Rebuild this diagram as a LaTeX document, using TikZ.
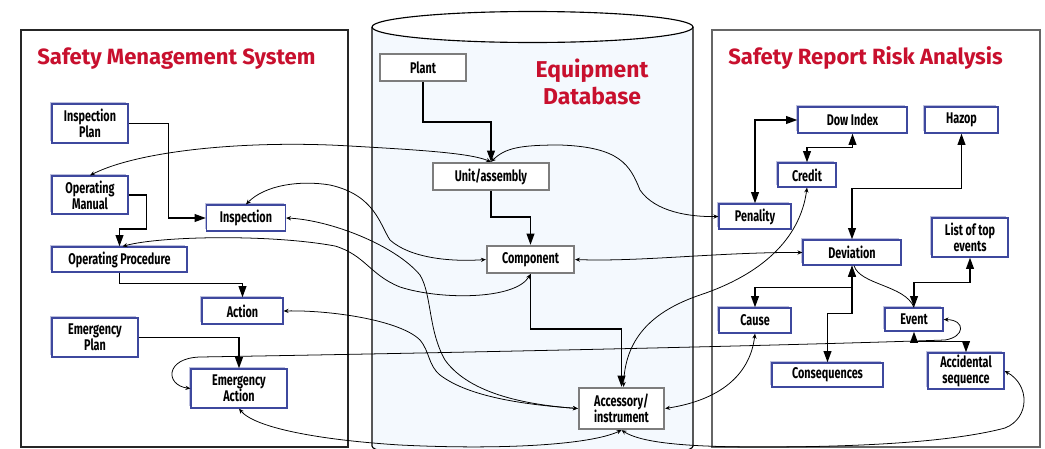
\documentclass[tikz,border=0pt]{standalone}
\usepackage{fontspec}
\setmainfont{Fira Sans}
\newfontfamily\boxfont[FakeStretch=0.7]{Fira Sans}
\usetikzlibrary{arrows.meta,shadows}
\definecolor{titlered}{RGB}{200,16,46}
\definecolor{boxblue}{RGB}{62,72,158}
\definecolor{boxgray}{RGB}{125,125,125}
\definecolor{dbblue}{RGB}{244,249,254}
\begin{document}
\begin{tikzpicture}[x=0.025cm,y=-0.025cm]
\def\px{0.025cm}
\tikzstyle{bluebox}=[draw=boxblue, line width=0.9pt, fill=white, align=center, inner sep=0pt, font=\boxfont\bfseries\fontsize{11}{11.5}\selectfont, drop shadow={shadow xshift=-1.2pt, shadow yshift=1.2pt, fill=boxblue, opacity=0.35}];
\tikzstyle{graybox}=[draw=boxgray, line width=1.6pt, fill=white, align=center, inner sep=0pt, font=\boxfont\bfseries\fontsize{11}{11.5}\selectfont];
\tikzstyle{paneltitle}=[text=titlered, inner sep=0pt, font=\bfseries\fontsize{15.7}{19}\selectfont];
\tikzstyle{thickarrow}=[line width=1.1pt, draw=black, -{Triangle[length=8pt,width=5.5pt]}];
\tikzstyle{thickboth}=[line width=1.1pt, draw=black, {Triangle[length=8pt,width=5.5pt]}-{Triangle[length=8pt,width=5.5pt]}];
\tikzstyle{thinboth}=[line width=0.55pt, draw=black, {Stealth[length=3.5pt,width=3pt]}-{Stealth[length=3.5pt,width=3pt]}];

\useasboundingbox (0,0) rectangle (1045,448);
\clip (0,0) rectangle (1045,448);

% panels
\draw [draw=black!85, line width=0.8pt] (21,30) rectangle (348,447); % left panel
\draw [draw=black!60, line width=1.2pt] (712,30) rectangle (1040,447); % right panel

% database cylinder
\def\cylL{372}
\def\cylR{693}
\def\cylT{27}
\def\cylB{446}
\draw [fill=dbblue, line width=0.8pt] (\cylL,\cylT) -- (\cylL,\cylB) arc[start angle=180, end angle=0, x radius=160.5, y radius=15.5] -- (\cylR,\cylT);
\draw [fill=white, line width=0.8pt] (532.5,\cylT) ellipse [x radius=160.5, y radius=15.5];

% titles
\node [paneltitle, anchor=base west] (sms) at (37,64) {Safety Menagement System};
\node [paneltitle, anchor=base west] (srra) at (728,64) {Safety Report Risk Analysis};
\node [paneltitle, align=center, font=\bfseries\fontsize{16.3}{19.5}\selectfont] (edb) at (592,82) {Equipment\\Database};

% safety management system
\node [bluebox, minimum width=76*\px, minimum height=39*\px] (ipl) at (90,123.5) {Inspection\\Plan};
\node [bluebox, minimum width=76*\px, minimum height=38*\px] (om) at (90,195) {Operating\\Manual};
\node [bluebox, minimum width=79*\px, minimum height=26*\px] (insp) at (246,218) {Inspection};
\node [bluebox, minimum width=135*\px, minimum height=25*\px] (op) at (119.5,259.5) {Operating Procedure};
\node [bluebox, minimum width=81*\px, minimum height=26*\px] (act) at (242.5,311) {Action};
\node [bluebox, minimum width=86*\px, minimum height=39*\px] (ep) at (95,337.5) {Emergency\\Plan};
\node [bluebox, minimum width=96*\px, minimum height=39*\px] (ea) at (239,388.5) {Emergency\\Action};

% equipment database
\node [graybox, minimum width=86*\px, minimum height=27*\px] (plant) at (423,67.5) {Plant};
\node [graybox, minimum width=116*\px, minimum height=27*\px] (unit) at (491,176.5) {Unit/assembly};
\node [graybox, minimum width=87*\px, minimum height=27*\px] (comp) at (530.5,259.5) {Component};
\node [graybox, minimum width=85*\px, minimum height=41*\px] (acc) at (621.5,408.5) {Accessory/\\instrument};

% safety report risk analysis
\node [bluebox, minimum width=109*\px, minimum height=26*\px] (dow) at (852.5,120) {Dow Index};
\node [bluebox, minimum width=73*\px, minimum height=26*\px] (hazop) at (961.5,120) {Hazop};
\node [bluebox, minimum width=58*\px, minimum height=24*\px] (credit) at (807,175) {Credit};
\node [bluebox, minimum width=72*\px, minimum height=25*\px] (pen) at (755,216.5) {Penality};
\node [bluebox, minimum width=76*\px, minimum height=39*\px] (lte) at (970,237.5) {List of top\\events};
\node [bluebox, minimum width=98*\px, minimum height=25*\px] (dev) at (852,252.5) {Deviation};
\node [bluebox, minimum width=72*\px, minimum height=25*\px] (cause) at (755,320.5) {Cause};
\node [bluebox, minimum width=58*\px, minimum height=23*\px] (event) at (914,319.5) {Event};
\node [bluebox, minimum width=111*\px, minimum height=24*\px] (cons) at (827.5,375) {Consequences};
\node [bluebox, minimum width=76*\px, minimum height=36*\px] (accseq) at (966,371) {Accidental\\sequence};

% thick links
\draw [thickarrow] (ipl.east) -- ++(40,0) |- (insp.west);
\draw [thickarrow] (om.east) -- ++(18,0) -- ++(0,34) -| (op.north);
\draw [thickarrow] (op.south) -- ++(0,11) -| (act.north);
\draw [thickarrow] (ep.east) -| (ea.north);
\draw [thickarrow] (plant.south) -- ++(0,40) -| (unit.north);
\draw [thickarrow] (unit.south) -- ++(0,26) -| (comp.north);
\draw [thickarrow] (comp.south) -- ++(0,55) -| (acc.north);
\draw [thickboth] (pen.north) |- (dow.west);
\draw [thickboth] (credit.north) -- ++(0,-15) -| (dow.south);
\draw [thickboth] (hazop.south) -- ++(0,55) -| (dev.north);
\draw [thickboth] (dev.south) -- ++(0,22) -| (cause.north);
\draw [thickboth] (dev.south) -- ++(0,48) -| (cons.north);
\draw [thickboth] (lte.south) -- ++(0,25) -| (event.north);
\draw [thickboth] (event.south) -- ++(0,10) -| (accseq.north);

% thin links
\draw [thinboth] (om.north) .. controls (140,150) and (250,140) .. (350,146) .. controls (420,150) and (470,153) .. (unit.north);
\draw [thinboth] (unit.north) .. controls (505,148) and (520,145) .. (560,145) .. controls (620,147) and (630,165) .. (640,190) .. controls (655,212) and (690,217) .. (pen.west);
\draw [thinboth] (insp.north) .. controls (265,185) and (300,180) .. (330,185) .. controls (375,195) and (380,225) .. (390,240) .. controls (410,258) and (450,262) .. (comp.west);
\draw [thinboth] ([xshift=3*\px]op.north) .. controls (160,236) and (270,234) .. (335,246) .. controls (365,255) and (370,275) .. (400,287) .. controls (440,300) and (515,300) .. (comp.south);
\draw [thinboth] (insp.east) .. controls (330,220) and (395,245) .. (420,275) .. controls (432,295) and (428,330) .. (445,360) .. controls (470,395) and (530,405) .. (acc.west);
\draw [thinboth] (act.east) .. controls (330,310) and (400,320) .. (420,340) .. controls (430,352) and (428,365) .. (440,375) .. controls (470,398) and (530,405) .. (acc.west);
\draw [thinboth] (ea.west) .. controls (165,385) and (165,358) .. (200,357) .. controls (500,352) and (800,345) .. (945,340) .. controls (965,337) and (966,320) .. (event.east);
\draw [thinboth] (ea.south) .. controls (255,428) and (320,440) .. (400,445) .. controls (500,450) and (590,445) .. (acc.south);
\draw [thinboth] (acc.south) .. controls (640,442) and (680,447) .. (760,447) .. controls (880,447) and (960,440) .. (1005,428) .. controls (1030,418) and (1030,385) .. (accseq.east);
\draw [thinboth] (cause.south) .. controls (750,375) and (720,400) .. (acc.east);
\draw [thinboth] (credit.south) .. controls (800,240) and (760,275) .. (700,295) .. controls (650,312) and (625,340) .. ([xshift=2*\px]acc.north);
\draw [thinboth] (comp.east) .. controls (640,262) and (720,252) .. (dev.west);
\draw [line width=0.55pt] ([xshift=2*\px]dev.south) .. controls (860,285) and (905,285) .. (event.north);

\end{tikzpicture}
\end{document}
